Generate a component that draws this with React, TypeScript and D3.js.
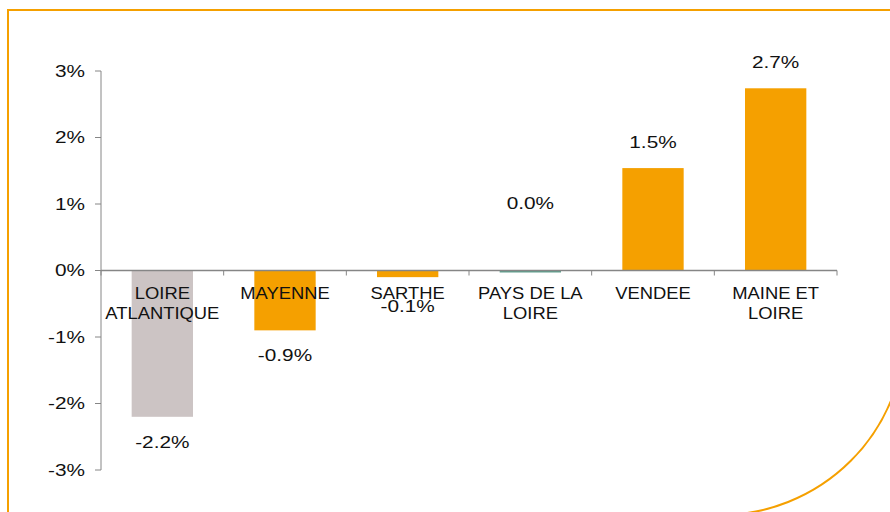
import React from "react";
import * as d3 from "d3";

const categories = ["LOIRE ATLANTIQUE", "MAYENNE", "SARTHE", "PAYS DE LA LOIRE", "VENDEE", "MAINE ET LOIRE"];
const values = [-2.2, -0.9, -0.1, -0.03, 1.54, 2.74];
const yTicks = [-3, -2, -1, 0, 1, 2, 3];

const W = 890;
const H = 512;
const ORANGE = "#F5A000";
const GREY = "#CCC4C4";
const GREEN = "#5E9E8C";
const AXIS = "#868686";
const FONT = "'Liberation Sans', Arial, sans-serif";

function wrap(label: string, maxChars: number): string[] {
  const words = label.split(" ");
  const lines: string[] = [];
  let cur = "";
  for (const w of words) {
    const next = cur ? cur + " " + w : w;
    if (next.length > maxChars && cur) {
      lines.push(cur);
      cur = w;
    } else cur = next;
  }
  if (cur) lines.push(cur);
  return lines;
}

function barColor(name: string) {
  if (name === "LOIRE ATLANTIQUE") return GREY;
  if (name === "PAYS DE LA LOIRE") return GREEN;
  return ORANGE;
}

function fmt(v: number) {
  const r = Math.round(v * 10) / 10;
  return (r === 0 ? 0 : r).toFixed(1) + "%";
}

export default function App() {
  const y = d3.scaleLinear().domain([-3, 3]).range([470, 71]);
  const x = d3
    .scaleBand<string>()
    .domain(categories)
    .range([101, 837])
    .paddingInner(0.5)
    .paddingOuter(0.25);
  const step = x.step();
  const x0 = 101;
  const y0 = y(0);
  const numScale = 1.3;
  const catScale = 1.15;

  return (
    <svg
      width={W}
      height={H}
      style={{ position: "absolute", left: 0, top: 0, background: "#fff" }}
      fontFamily={FONT}
    >
      <rect x={0} y={0} width={W} height={H} fill="#fff" />
      {/* frame */}
      <path
        d={`M8,530 L8,10 L905,10 L905,330 A185,185 0 0 1 720,515`}
        fill="none"
        stroke={ORANGE}
        strokeWidth={2}
      />
      {/* bars */}
      {categories.map((c, i) => {
        const v = values[i];
        const top = Math.min(y(v), y0);
        const h = Math.max(Math.abs(y(v) - y0), 1.5);
        return (
          <rect
            key={c}
            x={x(c)}
            y={top}
            width={x.bandwidth()}
            height={h}
            fill={barColor(c)}
          />
        );
      })}
      {/* y axis */}
      <line x1={x0} x2={x0} y1={y(3)} y2={y(-3)} stroke={AXIS} strokeWidth={1} />
      {yTicks.map((t) => (
        <g key={t}>
          <line x1={x0 - 6} x2={x0} y1={y(t)} y2={y(t)} stroke={AXIS} strokeWidth={1} />
          <text
            transform={`translate(${x0 - 16},${y(t) + 5.5}) scale(${numScale},1)`}
            textAnchor="end"
            fontSize={16}
            fill="#111"
          >
            {t + "%"}
          </text>
        </g>
      ))}
      {/* x axis at zero */}
      <line x1={x0} x2={837} y1={y0} y2={y0} stroke={AXIS} strokeWidth={1.5} />
      {d3.range(categories.length + 1).map((i) => (
        <line
          key={i}
          x1={x0 + i * step}
          x2={x0 + i * step}
          y1={y0}
          y2={y0 + 5}
          stroke={AXIS}
          strokeWidth={1}
        />
      ))}
      {/* category labels */}
      {categories.map((c) => {
        const cx = (x(c) as number) + x.bandwidth() / 2;
        return wrap(c, 10).map((line, j) => (
          <text
            key={c + j}
            transform={`translate(${cx},${y0 + 28 + j * 20}) scale(${catScale},1)`}
            textAnchor="middle"
            fontSize={16}
            fill="#111"
          >
            {line}
          </text>
        ));
      })}
      {/* value labels */}
      {categories.map((c, i) => {
        const v = values[i];
        const cx = (x(c) as number) + x.bandwidth() / 2;
        let ly: number;
        if (Math.abs(v) < 0.05) ly = y0 - 62;
        else if (v > 0) ly = y(v) - 20;
        else ly = Math.max(y(v) + 31, y0 + 41);
        return (
          <text
            key={"v" + c}
            transform={`translate(${cx},${ly}) scale(${numScale},1)`}
            textAnchor="middle"
            fontSize={16}
            fill="#111"
          >
            {fmt(v)}
          </text>
        );
      })}
    </svg>
  );
}
